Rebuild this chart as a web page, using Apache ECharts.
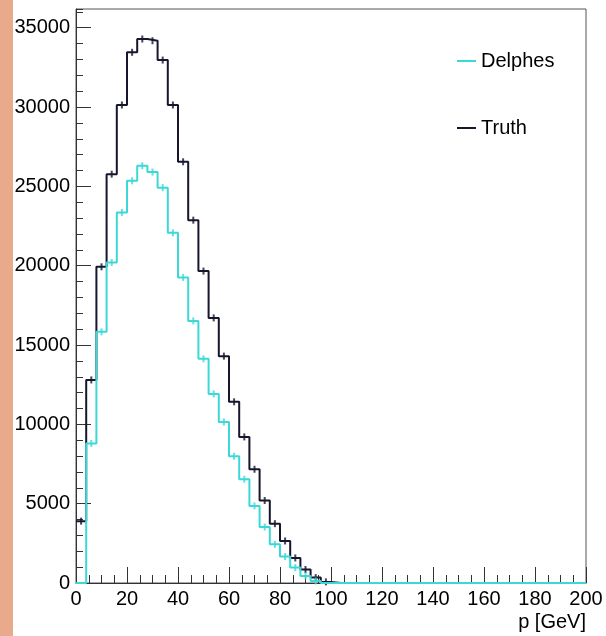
<!DOCTYPE html>
<html>
<head>
<meta charset="utf-8">
<script src="https://cdn.jsdelivr.net/npm/echarts@6/dist/echarts.min.js"></script>
<style>html,body{margin:0;padding:0;background:#fff}#c{width:606px;height:636px}</style>
</head>
<body>
<div id="c"></div>
<script>
// Histogram binning (GeV)
const binStart = 0;
const binWidth = 4;
const xTickLabels = [0, 20, 40, 60, 80, 100, 120, 140, 160, 180, 200];
const yTickLabels = [0, 5000, 10000, 15000, 20000, 25000, 30000, 35000];
// Bin contents (50 bins of 4 GeV, 0-200 GeV)
const truth = [3900, 12800, 19930, 25770, 30130, 33450, 34290, 34180, 32960, 30130,
  26550, 22870, 19660, 16710, 14300, 11420, 9210, 7170, 5200, 3740,
  2650, 1580, 850, 340, 70, 0, 0, 0, 0, 0,
  0, 0, 0, 0, 0, 0, 0, 0, 0, 0,
  0, 0, 0, 0, 0, 0, 0, 0, 0, 0];
const delphes = [0, 8800, 15830, 20200, 23360, 25350, 26300, 25900, 24920, 22070,
  19260, 16520, 14130, 11920, 10150, 7990, 6540, 4860, 3530, 2440,
  1670, 970, 440, 130, 0, 0, 0, 0, 0, 0,
  0, 0, 0, 0, 0, 0, 0, 0, 0, 0,
  0, 0, 0, 0, 0, 0, 0, 0, 0, 0];
const seriesNames = ['Delphes', 'Truth'];

const colTruth = '#16162e';
const colDelphes = '#3cd8d8';
const FONT = 'Liberation Sans, Arial, Helvetica, sans-serif';

function stepData(vals) {
  const d = vals.map((v, i) => [binStart + i * binWidth, v]);
  d.push([binStart + vals.length * binWidth, vals[vals.length - 1]]);
  return d;
}
function errData(vals) {
  const d = [];
  vals.forEach((v, i) => { if (v > 0) d.push([binStart + (i + 0.5) * binWidth, v]); });
  return d;
}

const chart = echarts.init(document.getElementById('c'), null, {renderer: 'canvas'});
const yMax = 36180;
chart.setOption({
  animation: false,
  backgroundColor: '#ffffff',
  textStyle: {fontFamily: FONT},
  grid: {left: 76, right: 20, top: 9, bottom: 53, show: true, borderColor: '#555', borderWidth: 1, containLabel: false},
  graphic: [
    {type: 'rect', left: 0, top: 0, shape: {x: 0, y: 0, width: 13, height: 636}, style: {fill: '#e9a98b'}, silent: true},
    {type: 'text', right: 20, top: 612, style: {text: 'p [GeV]', font: '20px ' + FONT, fill: '#000'}}
  ],
  legend: {
    data: seriesNames,
    orient: 'vertical',
    left: 457, top: 51,
    padding: 0,
    itemGap: 47,
    itemWidth: 19, itemHeight: 2,
    icon: 'rect',
    textStyle: {fontSize: 20, color: '#000', fontFamily: FONT}
  },
  xAxis: {
    type: 'value', min: xTickLabels[0], max: xTickLabels[xTickLabels.length - 1], interval: 20,
    axisLine: {show: true, lineStyle: {color: '#333', width: 1}},
    axisTick: {show: true, inside: true, length: 16, lineStyle: {color: '#333'}},
    minorTick: {show: true, splitNumber: 4, length: 8, lineStyle: {color: '#333'}},
    splitLine: {show: false},
    axisLabel: {fontSize: 20, color: '#000', margin: 6, fontFamily: FONT}
  },
  yAxis: [{
    type: 'value', min: 0, max: yMax, interval: 5000,
    axisLine: {show: true, lineStyle: {color: '#333', width: 1}},
    axisTick: {show: true, inside: true, length: 15, lineStyle: {color: '#333'}},
    splitLine: {show: false},
    axisLabel: {fontSize: 20, color: '#000', margin: 6, showMaxLabel: false, fontFamily: FONT,
      formatter: v => (yTickLabels.indexOf(v) >= 0 ? String(v) : '')}
  }, {
    type: 'value', min: 0, max: yMax, interval: 1000, position: 'left',
    axisLine: {show: false},
    axisTick: {show: true, inside: true, length: 7, lineStyle: {color: '#333'}},
    splitLine: {show: false},
    axisLabel: {show: false}
  }],
  series: [
    {name: 'Truth', type: 'line', step: 'end', data: stepData(truth), symbol: 'none', clip: false,
      lineStyle: {color: colTruth, width: 2}, itemStyle: {color: colTruth}, z: 3},
    {name: 'TruthErr', type: 'scatter', data: errData(truth), symbol: 'rect', symbolSize: [2, 7],
      itemStyle: {color: colTruth}, z: 3, silent: true},
    {name: 'Delphes', type: 'line', step: 'end', data: stepData(delphes), symbol: 'none', clip: false,
      lineStyle: {color: colDelphes, width: 2}, itemStyle: {color: colDelphes}, z: 4},
    {name: 'DelphesErr', type: 'scatter', data: errData(delphes), symbol: 'rect', symbolSize: [2, 7],
      itemStyle: {color: colDelphes}, z: 4, silent: true}
  ]
});
</script>
</body>
</html>
